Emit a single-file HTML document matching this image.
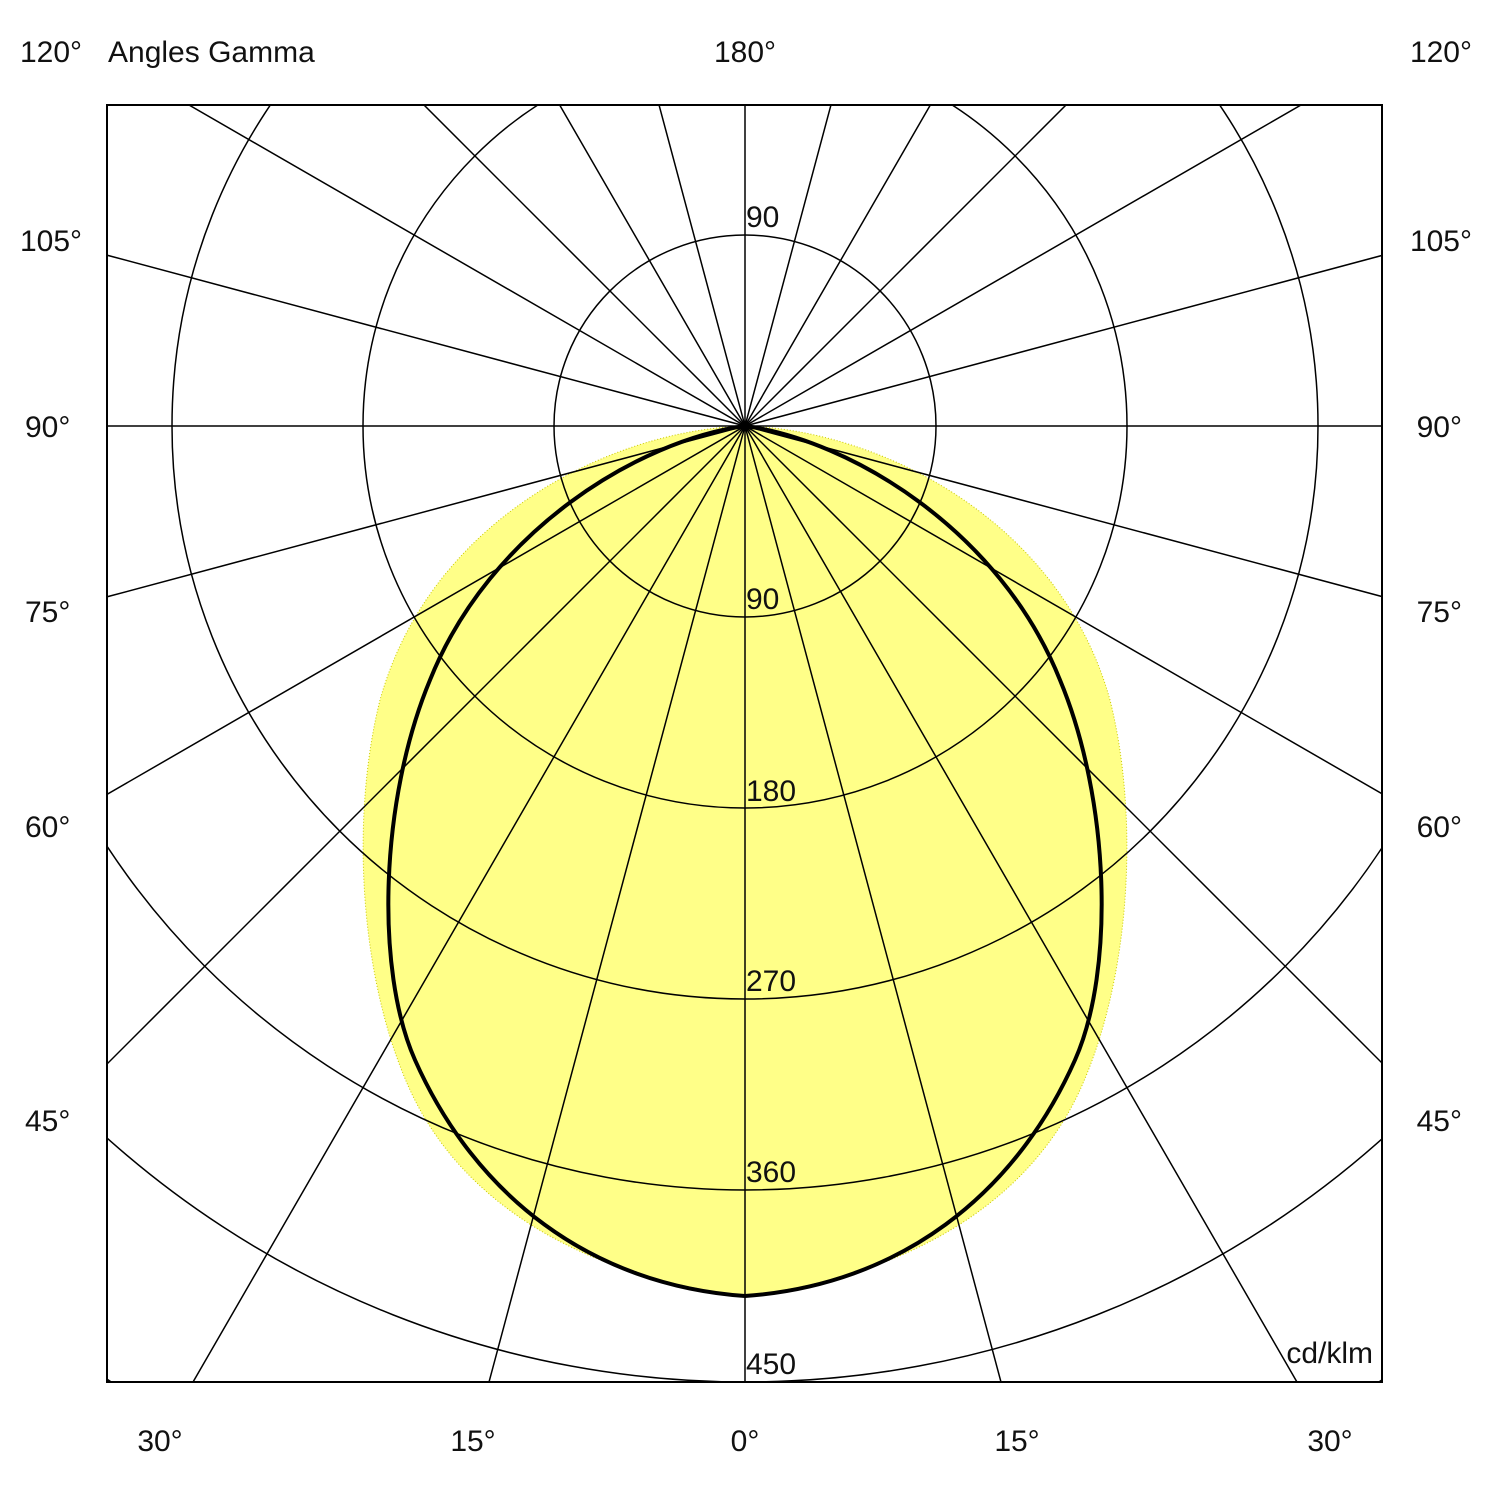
<!DOCTYPE html>
<html><head><meta charset="utf-8"><style>
html,body{margin:0;padding:0;background:#fff;width:1490px;height:1490px;overflow:hidden;}
svg{display:block;}
text{font-family:"Liberation Sans",Arial,sans-serif;font-size:30px;fill:#111;}
</style></head><body>
<svg width="1490" height="1490" viewBox="0 0 1490 1490" xmlns="http://www.w3.org/2000/svg">
<defs><clipPath id="c"><rect x="107" y="105" width="1275" height="1277"/></clipPath></defs>
<g clip-path="url(#c)">
<path d="M745,426 C880,430 1060,520 1110,700 C1140,820 1130,980 1080,1090 C1020,1220 880,1280 745,1296 C610,1280 470,1220 410,1090 C360,980 350,820 380,700 C430,520 610,430 745,426Z" fill="#ffff88" stroke="#c8c800" stroke-width="1" stroke-dasharray="1,2"/>
<g fill="none" stroke="#000" stroke-width="1.5">
<circle cx="745" cy="426" r="191"/>
<circle cx="745" cy="426" r="382"/>
<circle cx="745" cy="426" r="573"/>
<circle cx="745" cy="426" r="764"/>
<circle cx="745" cy="426" r="956"/>
<circle cx="745" cy="426" r="1147"/>
<g transform="translate(745,426)">
<line x1="-1500" y1="0" x2="1500" y2="0"/>
<line x1="0" y1="-1500" x2="0" y2="1500"/>
<line x1="-1449" y1="-388" x2="1449" y2="388"/>
<line x1="-1449" y1="388" x2="1449" y2="-388"/>
<line x1="-1299" y1="-750" x2="1299" y2="750"/>
<line x1="-1299" y1="750" x2="1299" y2="-750"/>
<line x1="-1061" y1="-1061" x2="1061" y2="1061"/>
<line x1="-1061" y1="1061" x2="1061" y2="-1061"/>
<line x1="-750" y1="-1299" x2="750" y2="1299"/>
<line x1="-750" y1="1299" x2="750" y2="-1299"/>
<line x1="-388" y1="-1449" x2="388" y2="1449"/>
<line x1="-388" y1="1449" x2="388" y2="-1449"/>
</g>
</g>
<path d="M745,426 C850,440 1000,530 1060,680 C1110,800 1115,970 1075,1060 C1015,1195 900,1285 745,1296 C590,1285 475,1195 415,1060 C375,970 380,800 430,680 C490,530 640,440 745,426Z" fill="none" stroke="#000" stroke-width="4"/>
</g>
<rect x="107" y="105" width="1275" height="1277" fill="none" stroke="#000" stroke-width="2"/>
<text x="20" y="62">120°</text>
<text x="108" y="62">Angles Gamma</text>
<text x="745" y="62" text-anchor="middle">180°</text>
<text x="1472" y="62" text-anchor="end">120°</text>
<text x="20" y="251">105°</text>
<text x="1472" y="251" text-anchor="end">105°</text>
<text x="25" y="437">90°</text>
<text x="1462" y="437" text-anchor="end">90°</text>
<text x="25" y="622">75°</text>
<text x="1462" y="622" text-anchor="end">75°</text>
<text x="25" y="837">60°</text>
<text x="1462" y="837" text-anchor="end">60°</text>
<text x="25" y="1131">45°</text>
<text x="1462" y="1131" text-anchor="end">45°</text>
<text x="160" y="1451" text-anchor="middle">30°</text>
<text x="473" y="1451" text-anchor="middle">15°</text>
<text x="745" y="1451" text-anchor="middle">0°</text>
<text x="1017" y="1451" text-anchor="middle">15°</text>
<text x="1330" y="1451" text-anchor="middle">30°</text>
<text x="746" y="227">90</text>
<text x="746" y="609">90</text>
<text x="746" y="801">180</text>
<text x="746" y="991">270</text>
<text x="746" y="1182">360</text>
<text x="746" y="1374">450</text>
<text x="1373" y="1363" text-anchor="end">cd/klm</text>
</svg>
</body></html>
